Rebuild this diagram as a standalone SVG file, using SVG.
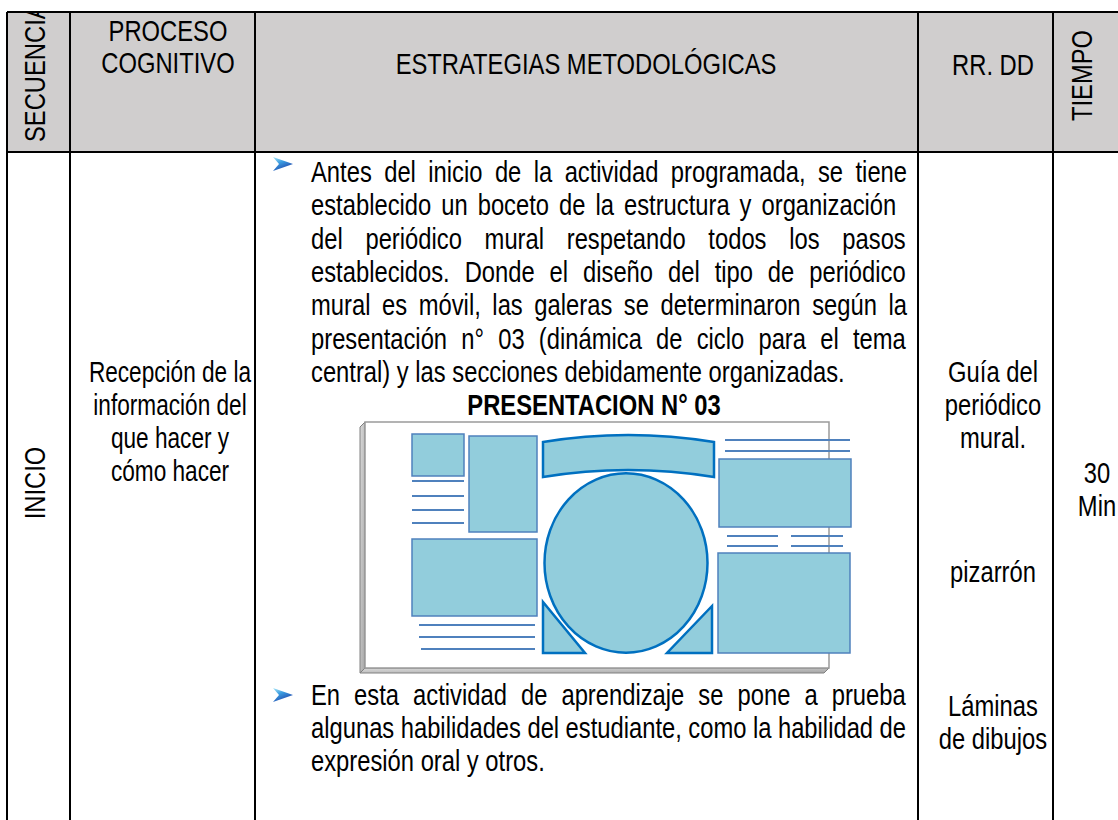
<svg xmlns="http://www.w3.org/2000/svg" width="1118" height="820" viewBox="0 0 1118 820">
<defs>
<style>
.t{font-family:"Liberation Sans",Arial,sans-serif;font-size:29px;fill:#000}
.c{text-anchor:middle}
.bd{font-weight:bold}
.grid{stroke:#000;stroke-width:2;fill:none}
.box{fill:#92CDDC;stroke:#4F81BD;stroke-width:1.5}
.shp{fill:#92CDDC;stroke:#0070C0;stroke-width:2.5}
.ln{stroke:#4F81BD;stroke-width:2;fill:none}
.bev{fill:url(#bevG);stroke:#808080;stroke-width:1}
</style>
<linearGradient id="arrG" x1="0" y1="0" x2="0.6" y2="1">
<stop offset="0" stop-color="#a8e8f8"/>
<stop offset="0.45" stop-color="#3a9be0"/>
<stop offset="1" stop-color="#1f3fa6"/>
</linearGradient>
<linearGradient id="bevG" x1="0" y1="0" x2="1" y2="1">
<stop offset="0" stop-color="#d9d9d9"/>
<stop offset="1" stop-color="#a6a6a6"/>
</linearGradient>
<clipPath id="clipSec"><rect x="8" y="13" width="61" height="138"/></clipPath>
<clipPath id="clipTie"><rect x="1054" y="13" width="64" height="138"/></clipPath>
</defs>
<rect x="0" y="0" width="1118" height="820" fill="#fff"/>

<g id="header">
<rect x="7" y="12" width="1111" height="140" fill="#D0CECE"/>
<g id="h-secuencia" clip-path="url(#clipSec)">
<text class="t" transform="translate(45,142) rotate(-90) scale(0.82,1)">SECUENCIA</text>
</g>
<g id="h-proceso">
<text class="t c" transform="translate(168,41) scale(0.82,1)">PROCESO</text>
<text class="t c" transform="translate(168,73) scale(0.82,1)">COGNITIVO</text>
</g>
<g id="h-estrategias">
<text class="t c" transform="translate(586,74) scale(0.82,1)">ESTRATEGIAS METODOLÓGICAS</text>
</g>
<g id="h-rrdd">
<text class="t c" transform="translate(993,75) scale(0.82,1)">RR. DD</text>
</g>
<g id="h-tiempo" clip-path="url(#clipTie)">
<text class="t" transform="translate(1092,121) rotate(-90) scale(0.82,1)">TIEMPO</text>
</g>
</g>

<g id="grid" class="grid">
<path d="M7,12 H1118 M7,152 H1118 M7,12 V820 M70,12 V820 M255,12 V820 M918,12 V820 M1053,12 V820"/>
</g>

<g id="secuencia">
<text class="t c" transform="translate(45,483) rotate(-90) scale(0.82,1)">INICIO</text>
</g>

<g id="proceso">
<text class="t c" transform="translate(170,382) scale(0.78,1)">Recepción de la</text>
<text class="t c" transform="translate(170,415) scale(0.78,1)">información del</text>
<text class="t c" transform="translate(170,448) scale(0.78,1)">que hacer y</text>
<text class="t c" transform="translate(170,481) scale(0.78,1)">cómo hacer</text>
</g>

<g id="estrategia1">
<path d="M273,157 L293,164 L273,171 L279,164 Z" fill="url(#arrG)"/>
<text class="t" transform="translate(311,182) scale(0.82,1)" word-spacing="7.09">Antes del inicio de la actividad programada, se tiene</text>
<text class="t" transform="translate(311,215) scale(0.82,1)" word-spacing="4.15">establecido un boceto de la estructura y organización</text>
<text class="t" transform="translate(311,249) scale(0.82,1)" word-spacing="19.66">del periódico mural respetando todos los pasos</text>
<text class="t" transform="translate(311,282) scale(0.82,1)" word-spacing="10.16">establecidos. Donde el diseño del tipo de periódico</text>
<text class="t" transform="translate(311,315) scale(0.82,1)" word-spacing="6.09">mural es móvil, las galeras se determinaron según la</text>
<text class="t" transform="translate(311,349) scale(0.82,1)" word-spacing="9.27">presentación n° 03 (dinámica de ciclo para el tema</text>
<text class="t" transform="translate(311,382) scale(0.82,1)">central) y las secciones debidamente organizadas.</text>
<text class="t c bd" transform="translate(594,415) scale(0.82,1)">PRESENTACION N° 03</text>
</g>

<g id="presentacion">
<polygon class="bev" points="365,422 360,427 360,673 365,668"/>
<polygon class="bev" points="365,668 829,668 824,673 360,673"/>
<rect x="365" y="422" width="464" height="246" fill="#fff" stroke="#9a9a9a" stroke-width="1.5"/>
<rect class="box" x="412" y="434" width="52" height="42"/>
<path class="ln" d="M412,481 H464 M412,496 H464 M412,510 H464 M412,523 H464"/>
<rect class="box" x="469" y="436" width="68" height="96"/>
<rect class="box" x="412" y="539" width="125" height="77"/>
<path class="ln" d="M419,625 H535 M419,637 H535 M421,649 H535"/>
<path class="shp" d="M543,442 Q628,428 714,442 L714,477 Q628,463 543,477 Z"/>
<ellipse class="shp" cx="626" cy="563" rx="81.5" ry="89.7"/>
<polygon class="shp" points="543,602 543,653 585,653"/>
<polygon class="shp" points="712,606 712,653 667,653"/>
<path class="ln" d="M725,440 H850 M725,451 H850"/>
<rect class="box" x="719" y="459" width="132" height="68"/>
<path class="ln" d="M727,536 H778 M791,536 H843 M727,546 H778 M791,546 H843"/>
<rect class="box" x="718" y="553" width="132" height="100"/>
</g>

<g id="estrategia2">
<path d="M273,688 L293,695 L273,702 L279,695 Z" fill="url(#arrG)"/>
<text class="t" transform="translate(311,705) scale(0.82,1)" word-spacing="9.09">En esta actividad de aprendizaje se pone a prueba</text>
<text class="t" transform="translate(311,738) scale(0.82,1)" word-spacing="-0.15">algunas habilidades del estudiante, como la habilidad de</text>
<text class="t" transform="translate(311,771) scale(0.82,1)">expresión oral y otros.</text>
</g>

<g id="recursos">
<text class="t c" transform="translate(993,382) scale(0.82,1)">Guía del</text>
<text class="t c" transform="translate(993,415) scale(0.82,1)">periódico</text>
<text class="t c" transform="translate(993,448) scale(0.82,1)">mural.</text>
<text class="t c" transform="translate(993,582) scale(0.82,1)">pizarrón</text>
<text class="t c" transform="translate(993,716) scale(0.82,1)">Láminas</text>
<text class="t c" transform="translate(993,749) scale(0.82,1)">de dibujos</text>
</g>

<g id="tiempo">
<text class="t c" transform="translate(1097,483) scale(0.82,1)">30</text>
<text class="t c" transform="translate(1097,516) scale(0.82,1)">Min</text>
</g>
</svg>
